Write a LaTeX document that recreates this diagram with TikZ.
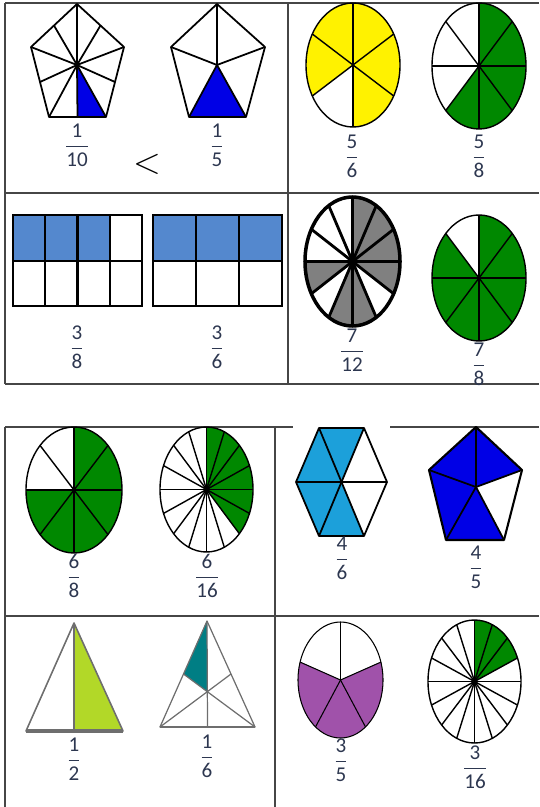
\documentclass[tikz,border=0pt]{standalone}
\usepackage{amsmath}
\usepackage{fontspec}
\newfontfamily\fracfont{Carlito}
\usetikzlibrary{calc}

\definecolor{shapeblue}{RGB}{0,0,230}
\definecolor{barblue}{RGB}{84,136,206}
\definecolor{pieyellow}{RGB}{255,242,0}
\definecolor{piegreen}{RGB}{0,136,0}
\definecolor{piegray}{RGB}{128,128,128}
\definecolor{hexblue}{RGB}{28,160,218}
\definecolor{limegreen}{RGB}{178,216,40}
\definecolor{tealc}{RGB}{0,126,132}
\definecolor{piepurple}{RGB}{160,82,170}
\definecolor{numink}{RGB}{45,55,80}
\definecolor{gridc}{RGB}{70,70,70}
\definecolor{trigray}{RGB}{110,110,110}

\newcommand{\fr}[2]{$\genfrac{}{}{0.8pt}{0}{\mbox{#1}}{\mbox{#2}}$}

\tikzset{
  frac/.style={font=\fracfont\fontsize{12}{14}\selectfont, text=numink, inner sep=0pt},
  gridline/.style={gridc, line width=1pt},
  pieline/.style={black, line width=0.8pt},
  polyline/.style={black, line width=1pt, line join=round},
  triline/.style={trigray, line width=0.7pt}
}

\begin{document}
\begin{tikzpicture}[x=0.02cm, y=0.02cm]
  \useasboundingbox (0,0) rectangle (539,-807);

  % --- upper table ---
  \draw[gridline] (5,-3) -- (539,-3);
  \draw[gridline] (5,-193) -- (539,-193);
  \draw[gridline] (5,-384) -- (539,-384);
  \draw[gridline] (5,-3) -- (5,-384);
  \draw[gridline] (288,-3) -- (288,-384);

  % --- lower table ---
  \draw[gridline] (5,-427) -- (293,-427);
  \draw[gridline] (390,-427) -- (539,-427);
  \draw[gridline] (5,-616) -- (539,-616);
  \draw[gridline] (5,-427) -- (5,-807);
  \draw[gridline] (275,-427) -- (275,-807);

  % --- pentagon cut in 10 ---
  \coordinate (pa) at (77,-4);
  \coordinate (pb) at (124,-47);
  \coordinate (pc) at (106,-117);
  \coordinate (pd) at (49,-117);
  \coordinate (pe) at (31,-47);
  \coordinate (po) at (77,-65);
  \fill[shapeblue] (po) -- ($(pd)!0.5!(pc)$) -- (pc) -- cycle;
  \draw[polyline] (pa) -- (pb) -- (pc) -- (pd) -- (pe) -- cycle;
  \foreach \u/\v in {pa/pb, pb/pc, pc/pd, pd/pe, pe/pa}{
    \draw[polyline] (po) -- (\u);
    \draw[polyline] (po) -- ($(\u)!0.5!(\v)$);
  }
  \fill (po) circle[radius=2];

  % --- pentagon cut in 5 ---
  \coordinate (qa) at (217,-4);
  \coordinate (qb) at (265,-47);
  \coordinate (qc) at (246,-117);
  \coordinate (qd) at (189,-117);
  \coordinate (qe) at (171,-47);
  \coordinate (qo) at (217,-65);
  \fill[shapeblue] (qo) -- (qd) -- (qc) -- cycle;
  \draw[polyline] (qa) -- (qb) -- (qc) -- (qd) -- (qe) -- cycle;
  \foreach \u in {qa, qb, qc, qd, qe} \draw[polyline] (qo) -- (\u);

  \node[frac] (f110) at (77,-145) {\fr{1}{10}};
  \node[frac] (f15) at (217,-145) {\fr{1}{5}};
  \node[font=\fontsize{22}{24}\selectfont, inner sep=0pt] (lt) at (147,-164) {$<$};

  % --- yellow oval 5/6 ---
  \begin{scope}[shift={(353,-65)}]
    \fill[pieyellow] (0,0) -- (-90:47 and 62) arc[start angle=-90, end angle=210, x radius=47, y radius=62] -- cycle;
    \draw[pieline] (0,0) ellipse[x radius=47, y radius=62];
    \foreach \a in {30,90,...,330} \draw[pieline] (0,0) -- (\a:47 and 62);
  \end{scope}

  % --- green oval 5/8 ---
  \begin{scope}[shift={(479,-66)}]
    \fill[piegreen] (0,0) -- (-135:47 and 63) arc[start angle=-135, end angle=90, x radius=47, y radius=63] -- cycle;
    \draw[pieline] (0,0) ellipse[x radius=47, y radius=63];
    \foreach \a in {0,45,...,315} \draw[pieline] (0,0) -- (\a:47 and 63);
    \fill (0,0) circle[radius=2];
  \end{scope}

  \node[frac] (f56) at (352,-156) {\fr{5}{6}};
  \node[frac] (f58) at (479,-156) {\fr{5}{8}};

  % --- bars 3/8 and 3/6 ---
  \foreach \i in {0,1,2}
    \fill[barblue] ({13+\i*32.25},-215) rectangle ({13+(\i+1)*32.25},-261);
  \draw[line width=1.2pt] (13,-215) rectangle (142,-306);
  \draw[line width=1.2pt] (13,-261) -- (142,-261);
  \foreach \i in {1,2,3}
    \draw[line width=1.2pt] ({13+\i*32.25},-215) -- ({13+\i*32.25},-306);

  \fill[barblue] (153,-215) rectangle (282,-261);
  \draw[line width=1.2pt] (153,-215) rectangle (282,-306);
  \draw[line width=1.2pt] (153,-261) -- (282,-261);
  \foreach \i in {1,2}
    \draw[line width=1.2pt] ({153+\i*43},-215) -- ({153+\i*43},-306);

  \node[frac] (f38) at (77,-347) {\fr{3}{8}};
  \node[frac] (f36) at (217,-347) {\fr{3}{6}};

  % --- grey oval 7/12 ---
  \begin{scope}[shift={(352.5,-261.5)}]
    \foreach \a in {180,240,270,330,0,30,60}
      \fill[piegray] (0,0) -- (\a:47.5 and 64.5) arc[start angle=\a, end angle=\a+30, x radius=47.5, y radius=64.5] -- cycle;
    \draw[black, line width=2pt] (0,0) ellipse[x radius=47.5, y radius=64.5];
    \foreach \a in {0,30,...,330} \draw[black, line width=1.6pt] (0,0) -- (\a:47.5 and 64.5);
    \fill (0,0) circle[radius=3];
  \end{scope}

  % --- green oval 7/8 ---
  \begin{scope}[shift={(479,-278)}]
    \fill[piegreen] (0,0) -- (135:47 and 63) arc[start angle=135, end angle=450, x radius=47, y radius=63] -- cycle;
    \draw[pieline] (0,0) ellipse[x radius=47, y radius=63];
    \foreach \a in {0,45,...,315} \draw[pieline] (0,0) -- (\a:47 and 63);
  \end{scope}

  \node[frac] (f712) at (352,-350) {\fr{7}{12}};
  \node[frac] (f78) at (479,-364) {\fr{7}{8}};

  % --- green oval 6/8 ---
  \begin{scope}[shift={(74,-490)}]
    \fill[piegreen] (0,0) -- (-180:48 and 63) arc[start angle=-180, end angle=90, x radius=48, y radius=63] -- cycle;
    \draw[pieline] (0,0) ellipse[x radius=48, y radius=63];
    \foreach \a in {0,45,...,315} \draw[pieline] (0,0) -- (\a:48 and 63);
    \fill (0,0) circle[radius=2];
  \end{scope}

  % --- green oval 6/16 ---
  \begin{scope}[shift={(206.5,-489.5)}]
    \fill[piegreen] (0,0) -- (-45:46.5 and 62.5) arc[start angle=-45, end angle=90, x radius=46.5, y radius=62.5] -- cycle;
    \draw[pieline] (0,0) ellipse[x radius=46.5, y radius=62.5];
    \foreach \a in {0,22.5,...,337.5} \draw[pieline] (0,0) -- (\a:46.5 and 62.5);
    \fill (0,0) circle[radius=3];
  \end{scope}

  \node[frac] (f68) at (74,-576) {\fr{6}{8}};
  \node[frac] (f616) at (207,-576) {\fr{6}{16}};

  % --- hexagon 4/6 ---
  \coordinate (ha) at (319,-428);
  \coordinate (hb) at (364,-428);
  \coordinate (hc) at (387,-482);
  \coordinate (hd) at (364,-536);
  \coordinate (he) at (319,-536);
  \coordinate (hf) at (296,-482);
  \coordinate (ho) at (341.5,-482);
  \fill[hexblue] (ha) -- (hb) -- (ho) -- (hd) -- (he) -- (hf) -- cycle;
  \draw[polyline] (ha) -- (hb) -- (hc) -- (hd) -- (he) -- (hf) -- cycle;
  \draw[polyline] (ha) -- (hd);
  \draw[polyline] (hb) -- (he);
  \draw[polyline] (hc) -- (hf);

  % --- pentagon 4/5 ---
  \coordinate (ra) at (476,-427);
  \coordinate (rb) at (522,-470);
  \coordinate (rc) at (504,-540);
  \coordinate (rd) at (446,-540);
  \coordinate (re) at (429,-470);
  \coordinate (ro) at (476,-487);
  \fill[shapeblue] (ra) -- (rb) -- (ro) -- (rc) -- (rd) -- (re) -- cycle;
  \draw[polyline, line width=1.2pt] (ra) -- (rb) -- (rc) -- (rd) -- (re) -- cycle;
  \foreach \u in {ra, rb, rc, rd, re} \draw[polyline] (ro) -- (\u);

  \node[frac] (f46) at (342,-558) {\fr{4}{6}};
  \node[frac] (f45) at (476,-567) {\fr{4}{5}};

  % --- triangle 1/2 ---
  \coordinate (ta) at (74,-623);
  \coordinate (tb) at (123,-731);
  \coordinate (tc) at (26,-731);
  \coordinate (tm) at (74,-731);
  \fill[limegreen] (ta) -- (tm) -- (tb) -- cycle;
  \draw[triline, line width=0.9pt, line join=round] (ta) -- (tb) -- (tc) -- cycle;
  \draw[triline, line width=1.8pt] (tc) -- (tb);
  \draw[triline, line width=0.9pt] (ta) -- (tm);

  % --- triangle 1/6 ---
  \coordinate (sa) at (207,-621);
  \coordinate (sb) at (255,-727);
  \coordinate (sc) at (160,-727);
  \coordinate (sg) at (207,-691.7);
  \fill[tealc] (sa) -- ($(sa)!0.5!(sc)$) -- (sg) -- cycle;
  \draw[triline, line join=round] (sa) -- (sb) -- (sc) -- cycle;
  \draw[triline, line width=1.2pt] (sc) -- (sb);
  \draw[triline] (sa) -- ($(sc)!0.5!(sb)$);
  \draw[triline] (sb) -- ($(sa)!0.5!(sc)$);
  \draw[triline] (sc) -- ($(sa)!0.5!(sb)$);

  \node[frac] (f12) at (74,-759) {\fr{1}{2}};
  \node[frac] (f16) at (207,-756) {\fr{1}{6}};

  % --- purple oval 3/5 ---
  \begin{scope}[shift={(340.5,-680)}]
    \fill[piepurple] (0,0) -- (162:42.5 and 58) arc[start angle=162, end angle=378, x radius=42.5, y radius=58] -- cycle;
    \draw[pieline, line width=0.6pt] (0,0) ellipse[x radius=42.5, y radius=58];
    \foreach \a in {18,90,162,234,306} \draw[pieline, line width=0.6pt] (0,0) -- (\a:42.5 and 58);
  \end{scope}

  % --- green oval 3/16 ---
  \begin{scope}[shift={(474.5,-681.5)}]
    \fill[piegreen] (0,0) -- (22.5:46.5 and 61.5) arc[start angle=22.5, end angle=90, x radius=46.5, y radius=61.5] -- cycle;
    \draw[pieline] (0,0) ellipse[x radius=46.5, y radius=61.5];
    \foreach \a in {0,22.5,...,337.5} \draw[pieline] (0,0) -- (\a:46.5 and 61.5);
    \fill (0,0) circle[radius=3];
  \end{scope}

  \node[frac] (f35) at (341,-760) {\fr{3}{5}};
  \node[frac] (f316) at (475,-767) {\fr{3}{16}};
\end{tikzpicture}
\end{document}
